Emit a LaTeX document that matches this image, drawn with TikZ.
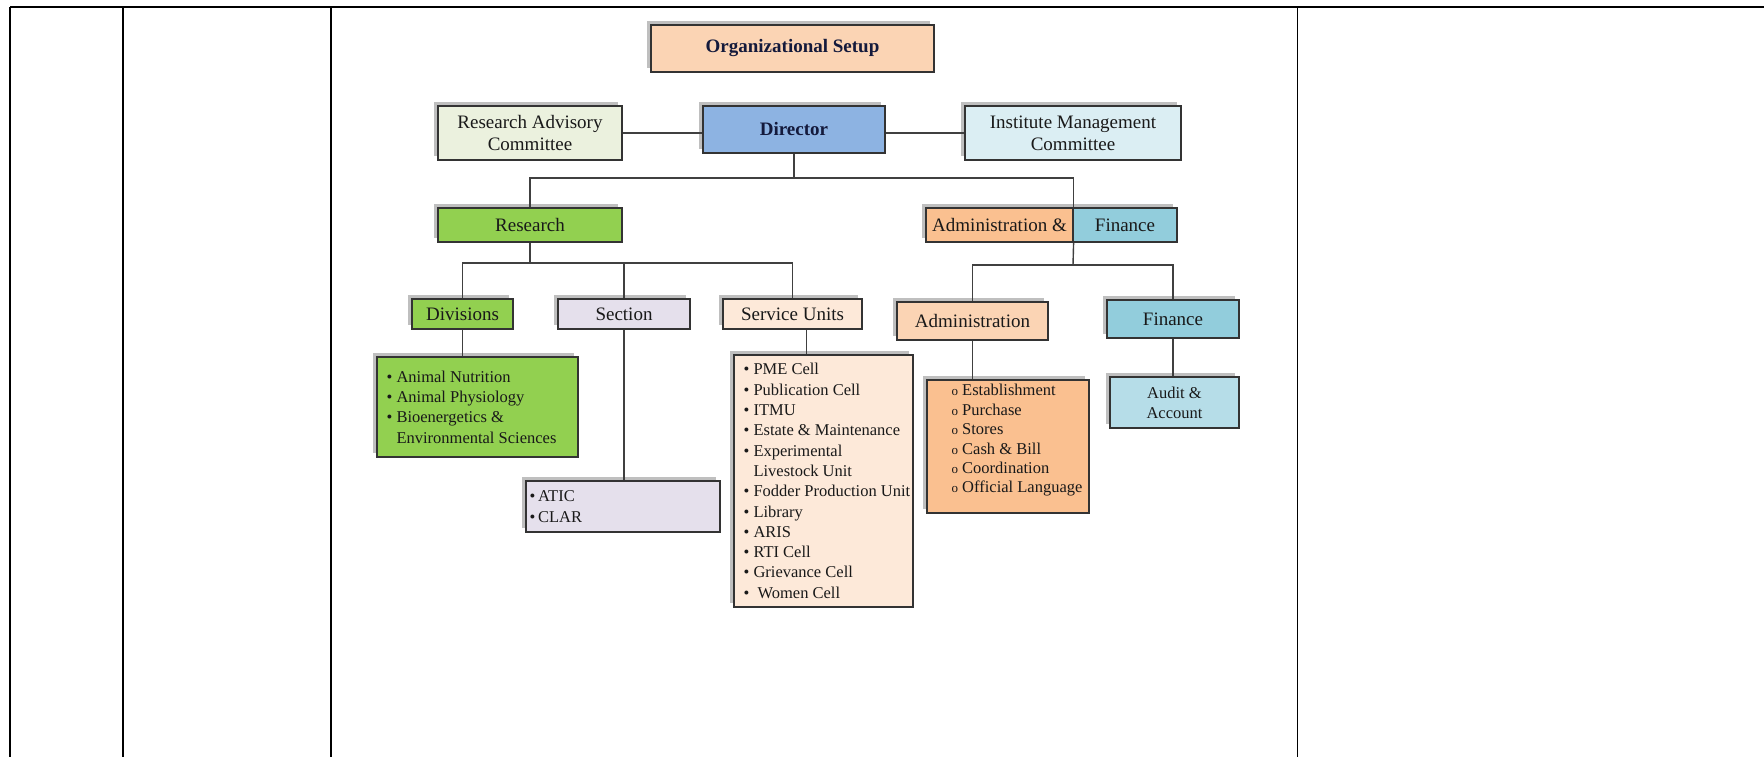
\documentclass[tikz,border=0pt]{standalone}
\usepackage{fontspec}
\setmainfont{Liberation Serif}
\usepackage{tikz}
\usetikzlibrary{positioning, shadows, calc}
\usepackage{xcolor}

\definecolor{peach}{HTML}{FBD4B4}
\definecolor{sage}{HTML}{EBF1DE}
\definecolor{dirblue}{HTML}{8DB3E2}
\definecolor{iceblue}{HTML}{DBEEF3}
\definecolor{leaf}{HTML}{92D050}
\definecolor{orng}{HTML}{FAC090}
\definecolor{finblue}{HTML}{92CDDC}
\definecolor{lavender}{HTML}{E5E0EC}
\definecolor{cream}{HTML}{FDE9D9}
\definecolor{audblue}{HTML}{B6DDE8}
\definecolor{navy}{HTML}{141A3C}

\newcommand{\ringitem}{{\fontsize{13}{13}\selectfont o}\ }

\begin{document}
\begin{tikzpicture}[x=1pt, y=-1pt]
    % Define styles
    \tikzstyle{orgbox} = [rectangle, draw=black!80, line width=1.2pt, text=black!90, align=center, inner sep=2pt, font=\fontsize{19}{22}\selectfont, drop shadow={shadow xshift=-4pt, shadow yshift=4pt, fill=black!25, opacity=1}]
    \tikzstyle{items} = [align=left, anchor=west, text=black!90, inner sep=0pt, font=\fontsize{16.5}{20.3}\selectfont]
    \tikzstyle{link} = [draw=black!75, line width=1.4pt]
    \tikzstyle{tabline} = [black, line width=2pt]

    \useasboundingbox (0,0) rectangle (1764,757);

    % Table rules
    \draw [tabline, line width=1.5pt] (10,7) -- (1764,7);
    \draw [tabline] (10,7) -- (10,757);
    \draw [tabline] (123,7) -- (123,757);
    \draw [tabline] (331,7) -- (331,757);
    \draw [tabline, line width=1pt] (1297,7) -- (1297,757);

    % Top
    \node [orgbox, fill=peach, minimum width=283pt, minimum height=47pt, font=\fontsize{19}{22}\selectfont\bfseries, text=navy] (setup) at (792.5,48.5) {Organizational Setup};
    \node [orgbox, fill=sage, minimum width=184pt, minimum height=54pt] (rac) at (530,133) {Research Advisory\\Committee};
    \node [orgbox, fill=dirblue, minimum width=182pt, minimum height=47pt, font=\fontsize{19}{22}\selectfont\bfseries, text=navy] (dir) at (794,129.5) {Director};
    \node [orgbox, fill=iceblue, minimum width=216pt, minimum height=54pt] (imc) at (1073,133) {Institute Management\\Committee};

    % Second level
    \node [orgbox, fill=leaf, minimum width=184pt, minimum height=34pt] (res) at (530,225) {Research};
    \node [orgbox, fill=finblue, minimum width=104pt, minimum height=34pt] (aff) at (1125,225) {Finance};
    \node [orgbox, fill=orng, minimum width=147pt, minimum height=34pt] (afa) at (999.5,225) {Administration \&};

    % Third level
    \node [orgbox, fill=leaf, minimum width=101pt, minimum height=30pt] (div) at (462.5,314) {Divisions};
    \node [orgbox, fill=lavender, minimum width=132pt, minimum height=30pt] (sec) at (624,314) {Section};
    \node [orgbox, fill=cream, minimum width=139pt, minimum height=30pt] (svc) at (792.5,314) {Service Units};
    \node [orgbox, fill=peach, minimum width=151pt, minimum height=38pt] (adm) at (972.5,321) {Administration};
    \node [orgbox, fill=finblue, minimum width=132pt, minimum height=38pt] (fin) at (1173,319) {Finance};

    % Lists
    \node [orgbox, fill=leaf, minimum width=201pt, minimum height=100pt,
        label={[items, xshift=10pt]west:{\textbullet\ Animal Nutrition\\\textbullet\ Animal Physiology\\\textbullet\ Bioenergetics \&\\\phantom{\textbullet\ }Environmental Sciences}}] (divlist) at (477.5,407) {};
    \node [orgbox, fill=lavender, minimum width=194pt, minimum height=51pt,
        label={[items, xshift=4pt]west:{\textbullet\,ATIC\\\textbullet\,CLAR}}] (seclist) at (623,506.5) {};
    \node [orgbox, fill=cream, minimum width=179pt, minimum height=252pt,
        label={[items, xshift=10pt]west:{\textbullet\ PME Cell\\\textbullet\ Publication Cell\\\textbullet\ ITMU\\\textbullet\ Estate \& Maintenance\\\textbullet\ Experimental\\\phantom{\textbullet\ }Livestock Unit\\\textbullet\ Fodder Production Unit\\\textbullet\ Library\\\textbullet\ ARIS\\\textbullet\ RTI Cell\\\textbullet\ Grievance Cell\\\textbullet\ \ Women Cell}}] (svclist) at (823.5,481) {};
    \node [orgbox, fill=orng, minimum width=162pt, minimum height=133pt,
        label={[items, xshift=25pt, yshift=6pt, font=\fontsize{16.5}{19.4}\selectfont]west:{\ringitem Establishment\\\ringitem Purchase\\\ringitem Stores\\\ringitem Cash \& Bill\\\ringitem Coordination\\\ringitem Official Language}}] (admlist) at (1008,446.5) {};
    \node [orgbox, fill=audblue, minimum width=129pt, minimum height=51pt, font=\fontsize{16.5}{20}\selectfont] (audit) at (1174.5,402.5) {Audit \&\\Account};

    % Lines
    \coordinate (topbus) at (794,178);
    \coordinate (resbus) at (530,263);
    \coordinate (afbus) at (1073,265);
    \draw [link] (rac.east) -- (rac.east -| dir.west);
    \draw [link] (imc.west) -- (imc.west -| dir.east);
    \draw [link] (dir.south) -- (topbus);
    \draw [link] (res.north) |- (topbus) -| (afa.north east);
    \draw [link] (res.south) -- (resbus);
    \draw [link] (div.north) |- (resbus) -| (svc.north);
    \draw [link] (sec.north) -- (sec.north |- resbus);
    \draw [link] (afa.south east) -- (afbus);
    \draw [link] (adm.north) |- (afbus) -| (fin.north);
    \draw [link] (div.south) -- (div.south |- divlist.north);
    \draw [link] (sec.south) -- (sec.south |- seclist.north);
    \draw [link] ([xshift=14pt]svc.south) -- ([xshift=14pt]svc.south |- svclist.north);
    \draw [link] (adm.south) -- (adm.south |- admlist.north);
    \draw [link] (fin.south) -- (fin.south |- audit.north);
\end{tikzpicture}
\end{document}
